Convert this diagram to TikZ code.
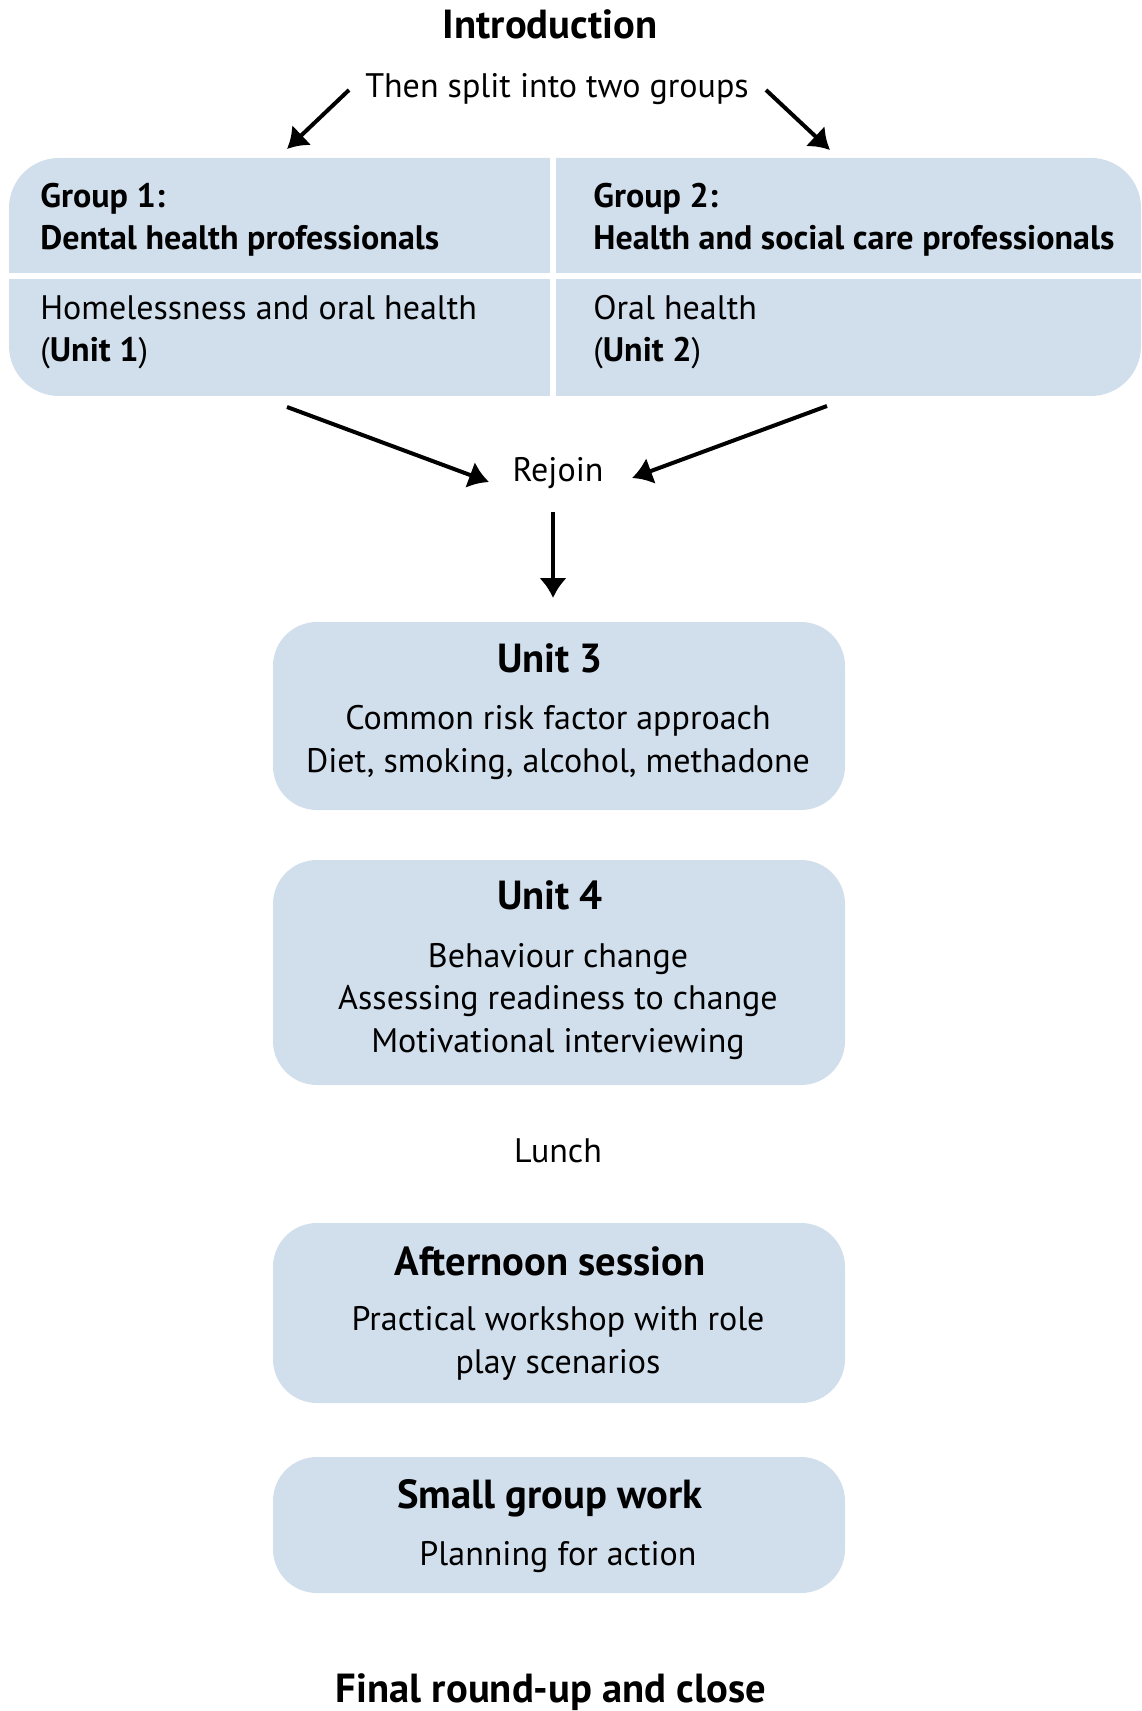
\documentclass[tikz,border=0pt]{standalone}
\usepackage{fontspec}
\setmainfont{PT Sans}
\usetikzlibrary{arrows.meta, positioning}
\definecolor{boxBlue}{RGB}{209,222,236}
\tikzset{
    unitBox/.style={fill=boxBlue, rounded corners=22pt, minimum width=286pt, inner sep=0pt},
    headText/.style={font=\fontsize{20.3}{24}\selectfont\bfseries, anchor=base, inner sep=0pt},
    bodyText/.style={font=\fontsize{17}{21.25}\selectfont, align=center, anchor=base, inner sep=0pt},
    groupText/.style={font=\fontsize{17}{21}\selectfont, align=left, anchor=base west, inner sep=0pt},
    flowArrow/.style={-{Latex[length=10pt, width=14pt]}, line width=2pt},
    divLine/.style={white, line width=3pt},
}
\newcommand{\drawSession}[5]{
    \node[unitBox, minimum height=#3] (#1) at (559,#2) {};
    \node[headText] (#1head) at (550,#4) {#5};
}

\begin{document}
\begin{tikzpicture}[x=0.5pt, y=-0.5pt]
    \useasboundingbox (0,0) rectangle (1141,1711);
    \clip (0,0) rectangle (1141,1711);

    \node[headText] (intro) at (550,39) {Introduction};
    \node[bodyText] (split) at (557,98) {Then split into two groups};
    \coordinate (splitL) at (349,90);
    \coordinate (g1in) at (287,149);
    \coordinate (splitR) at (766,90);
    \coordinate (g2in) at (830,150);
    \draw[flowArrow] (splitL) -- (g1in);
    \draw[flowArrow] (splitR) -- (g2in);

    \node[unitBox, minimum width=566pt, minimum height=119pt, rounded corners=25pt] (groups) at (575,277) {};
    \draw[divLine] (553,150) -- (553,400);
    \draw[divLine] (0,276) -- (1141,276);
    \node[groupText] (g1head) at (40,250) {\bfseries Group 1:\\\bfseries Dental health professionals};
    \node[groupText] (g1unit) at (40,362) {Homelessness and oral health\\(\textbf{Unit 1})};
    \node[groupText] (g2head) at (593,250) {\bfseries Group 2:\\\bfseries Health and social care professionals};
    \node[groupText] (g2unit) at (593,362) {Oral health\\(\textbf{Unit 2})};

    \node[bodyText] (rejoin) at (558,481) {Rejoin};
    \coordinate (g1out) at (287,407);
    \coordinate (rjL) at (489,482);
    \coordinate (g2out) at (827,406);
    \coordinate (rjR) at (632,478);
    \coordinate (rjOut) at (553,512);
    \coordinate (u3in) at (553,598);
    \draw[flowArrow] (g1out) -- (rjL);
    \draw[flowArrow] (g2out) -- (rjR);
    \draw[flowArrow] (rjOut) -- (u3in);

    \drawSession{u3}{716}{94pt}{672}{Unit 3}
    \node[bodyText] (u3body) at (558,772) {Common risk factor approach\\Diet, smoking, alcohol, methadone};
    \drawSession{u4}{972.5}{112.5pt}{909}{Unit 4}
    \node[bodyText] (u4body) at (558,1052) {Behaviour change\\Assessing readiness to change\\Motivational interviewing};

    \node[bodyText] (lunch) at (558,1162) {Lunch};

    \drawSession{pm}{1313}{90pt}{1275}{Afternoon session}
    \node[bodyText] (pmbody) at (558,1373) {Practical workshop with role\\play scenarios};
    \drawSession{small}{1525}{68pt}{1508}{Small group work}
    \node[bodyText] (smallbody) at (558,1565) {Planning for action};

    \node[headText] (close) at (551,1702) {Final round-up and close};
\end{tikzpicture}
\end{document}
